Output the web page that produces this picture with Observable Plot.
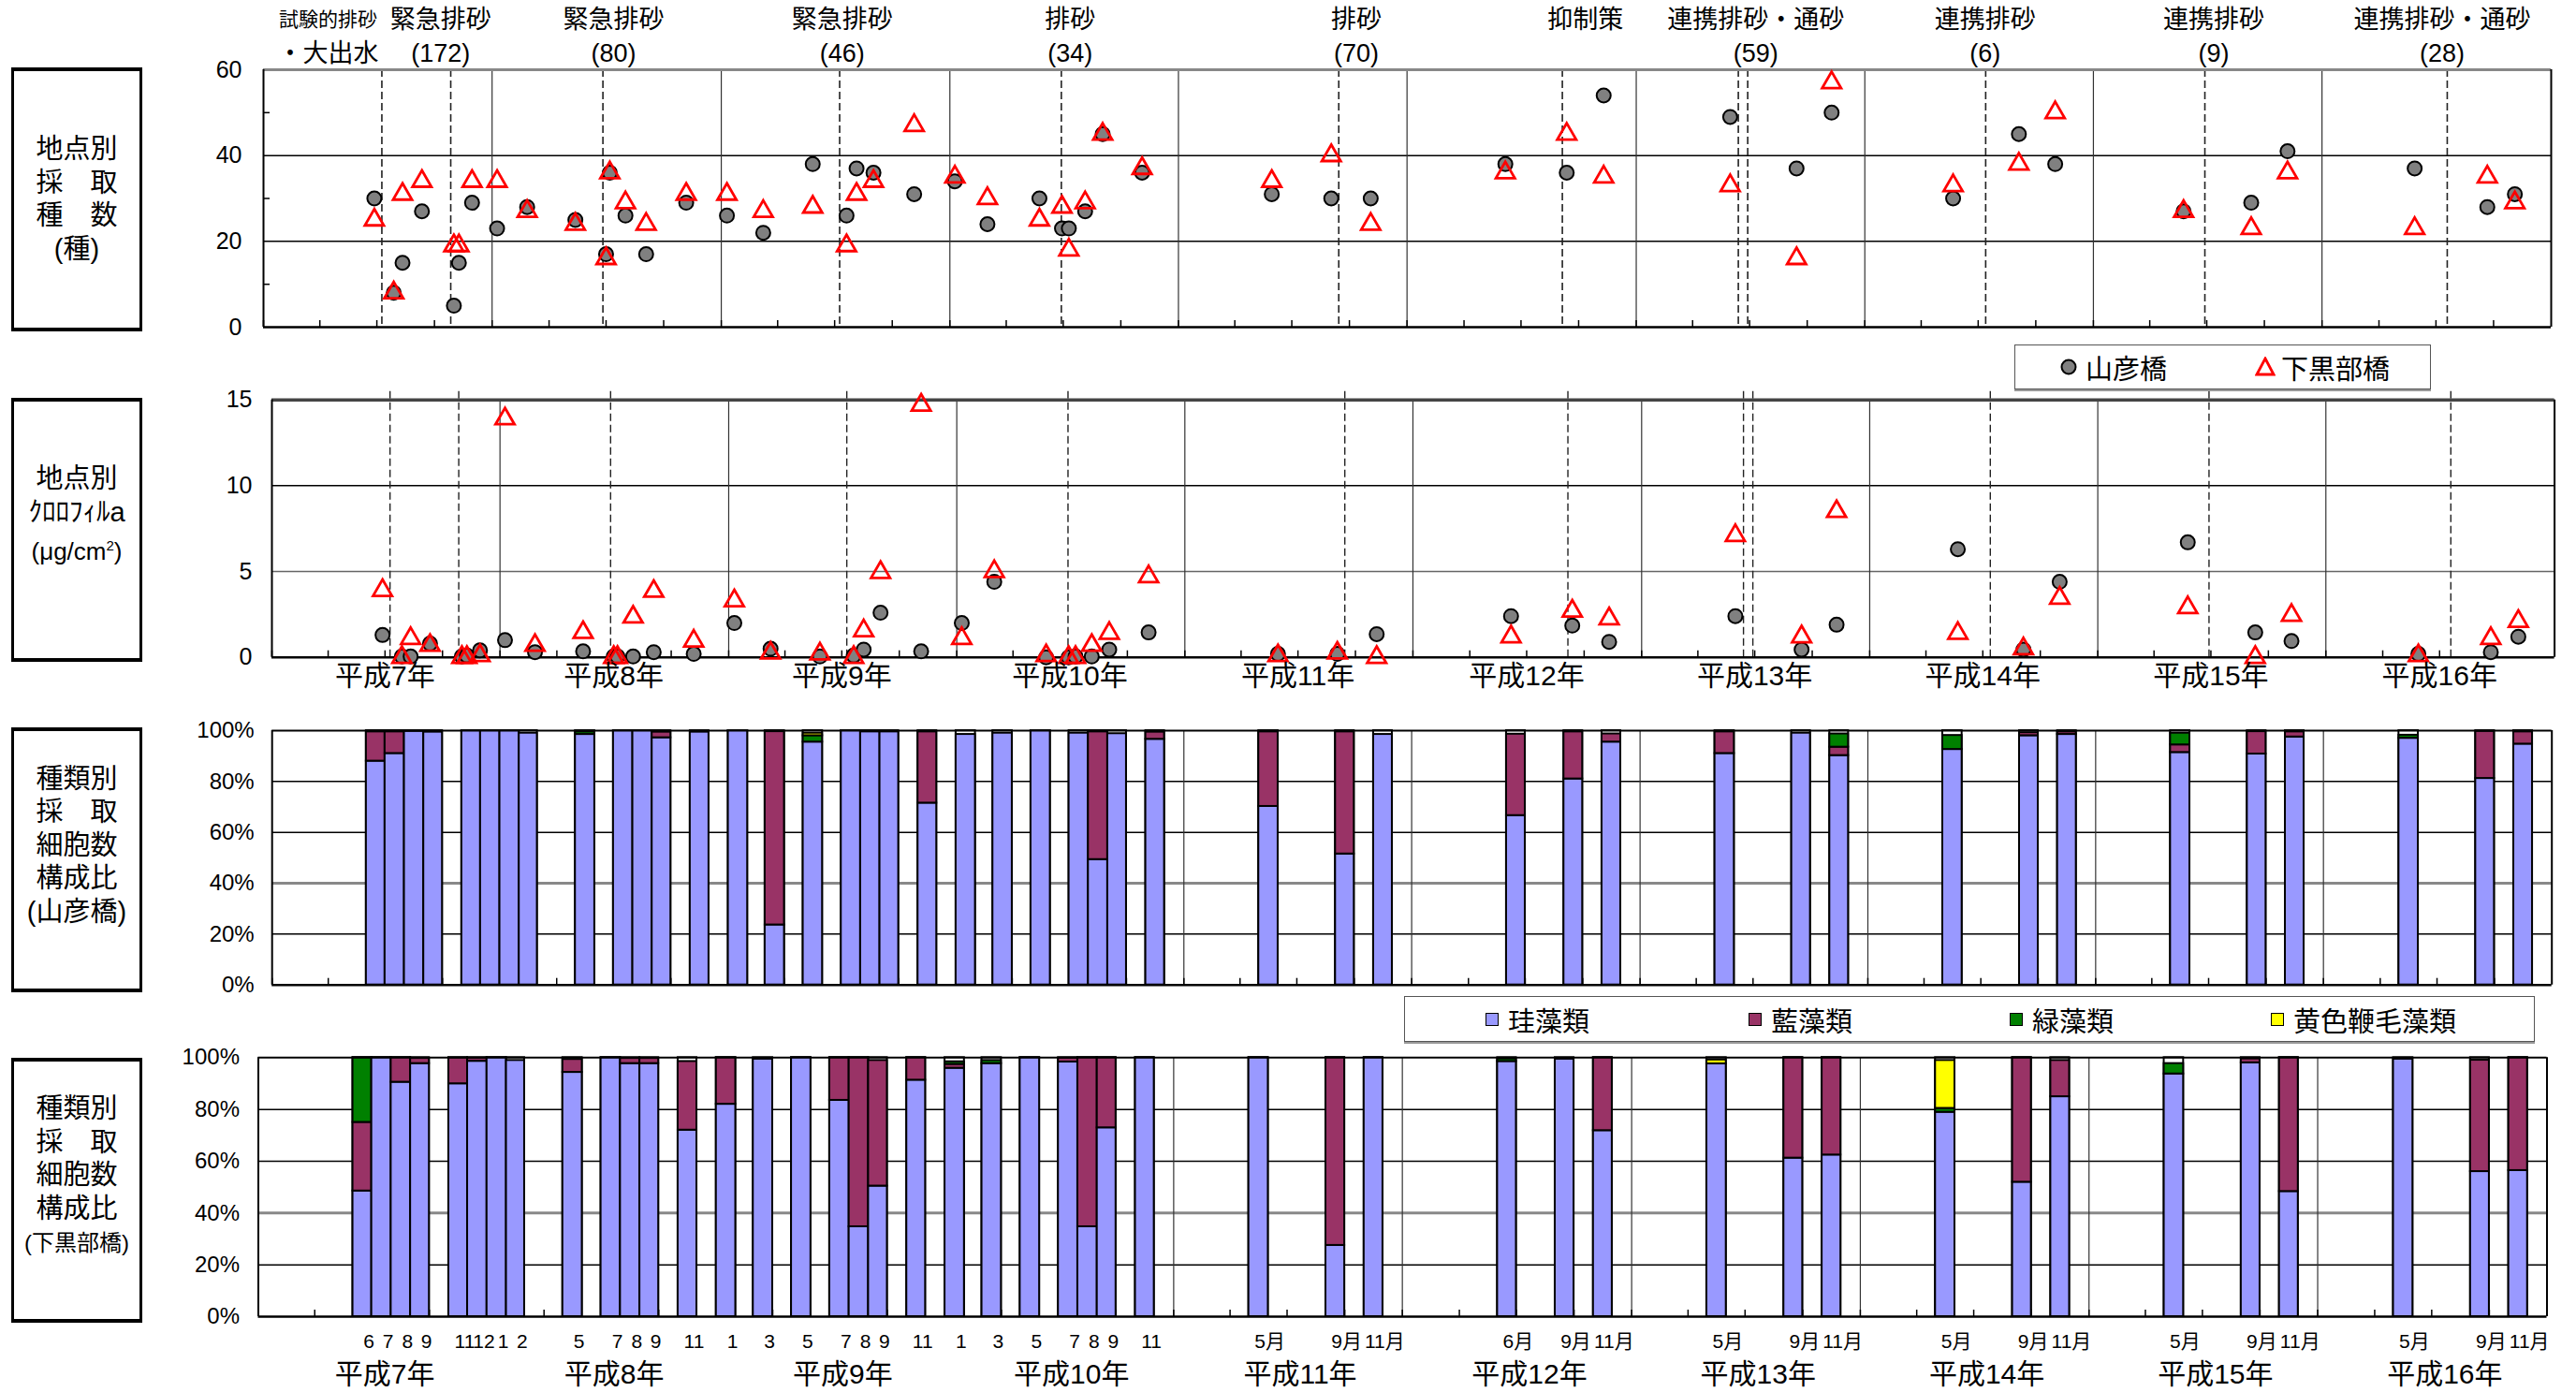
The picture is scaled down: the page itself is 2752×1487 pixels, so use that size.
<!DOCTYPE html>
<html lang="ja">
<head>
<meta charset="utf-8">
<title>地点別採取種数・クロロフィルa・種類別細胞数構成比</title>
<script src="https://cdn.jsdelivr.net/npm/d3@7"></script>
<script src="https://cdn.jsdelivr.net/npm/@observablehq/plot@0.6"></script>
<style>
html,body{margin:0;padding:0;background:#fff;}
#root{position:relative;width:2752px;height:1487px;overflow:hidden;font-family:"Liberation Sans",Arial,"Noto Sans CJK JP",sans-serif;color:#000;}
.panel{position:absolute;left:0;}
.box{position:absolute;left:12px;width:140px;box-sizing:border-box;border-style:solid;border-color:#000;border-width:4px 3px;display:flex;flex-direction:column;justify-content:center;align-items:center;font-size:29px;line-height:35.5px;font-family:"Liberation Sans","Noto Sans CJK JP",sans-serif;}
.legend{position:absolute;box-sizing:border-box;border:1.5px solid #555;box-shadow:0 2px 0 #999;background:#fff;font-family:"Noto Sans CJK JP",sans-serif;font-size:29px;}
.item{position:absolute;top:0;height:100%;display:flex;align-items:center;white-space:nowrap;}
.sw{position:absolute;width:14px;height:14px;box-sizing:border-box;border:1.5px solid #000;}
</style>
</head>
<body>
<div id="root"></div>
<script>
// ---------------- DATA ----------------
const sampleDates = ["1995-06-27","1995-07-28","1995-08-11","1995-09-11","1995-11-01","1995-11-09","1995-11-30","1996-01-09","1996-02-26","1996-05-13","1996-07-01","1996-07-07","1996-08-01","1996-09-03","1996-11-06","1997-01-10","1997-03-09","1997-05-27","1997-07-20","1997-08-05","1997-09-01","1997-11-05","1998-01-09","1998-03-02","1998-05-24","1998-06-29","1998-07-10","1998-08-05","1998-09-02","1998-11-04","1999-05-30","1999-09-02","1999-11-04","2000-06-06","2000-09-12","2000-11-10","2001-05-31","2001-09-14","2001-11-09","2002-05-22","2002-09-04","2002-11-01","2003-05-25","2003-09-10","2003-11-07","2004-05-28","2004-09-21","2004-11-04"];
const speciesYamahiko   = [30,8,15,27,5,15,29,23,28,25,17,36,26,17,29,26,22,38,26,37,36,31,34,24,30,23,23,27,45,36,31,30,30,38,36,54,49,37,50,30,45,38,27,29,41,37,28,31];
const speciesShimokurobe = [25,8,31,34,19,19,34,34,27,24,16,36,29,24,31,31,27,28,19,31,34,47,35,30,25,28,18,29,45,37,34,40,24,36,45,35,33,16,57,33,38,50,27,23,36,23,35,29];
const chlYamahiko   = [1.3,0.05,0.05,0.8,0.05,0.1,0.4,1.0,0.3,0.35,0.05,0.05,0.05,0.3,0.2,2.0,0.5,0.05,0.1,0.45,2.6,0.35,2.0,4.4,0.0,0.0,0.05,0.05,0.45,1.45,0.2,0.2,1.35,2.4,1.85,0.9,2.4,0.45,1.9,6.3,0.45,4.4,6.7,1.45,0.95,0.2,0.3,1.2];
const chlShimokurobe = [3.9,0.0,1.1,0.7,0.0,0.0,0.1,13.9,0.7,1.45,0.0,0.0,2.35,3.85,0.95,3.3,0.25,0.2,0.0,1.55,4.95,14.7,1.1,5.0,0.1,0.0,0.0,0.7,1.4,4.7,0.1,0.25,0.0,1.2,2.7,2.25,7.1,1.2,8.5,1.4,0.5,3.45,2.9,0.0,2.45,0.1,1.1,2.1];

const flushDates = ["1995-07-09","1995-10-27","1996-06-26","1997-07-09","1998-06-28","1999-09-14","2000-09-05","2001-06-13","2001-06-28","2002-07-13","2003-06-28","2004-07-19"];
const flushLabelDates = ["1995-04-14","1995-10-11","1996-07-13","1997-07-13","1998-07-12","1999-10-12","2000-10-12","2001-07-11","2002-07-12","2003-07-12","2004-07-11"];
const flushLabelLine1 = ["試験的排砂","緊急排砂","緊急排砂","緊急排砂","排砂","排砂","抑制策","連携排砂・通砂","連携排砂","連携排砂","連携排砂・通砂"];
const flushLabelLine2 = ["・大出水","(172)","(80)","(46)","(34)","(70)","","(59)","(6)","(9)","(28)"];

const yearLabels = ["平成7年","平成8年","平成9年","平成10年","平成11年","平成12年","平成13年","平成14年","平成15年","平成16年"];

const cellMonths = ["1995-06","1995-07","1995-08","1995-09","1995-11","1995-12","1996-01","1996-02","1996-05","1996-07","1996-08","1996-09","1996-11","1997-01","1997-03","1997-05","1997-07","1997-08","1997-09","1997-11","1998-01","1998-03","1998-05","1998-07","1998-08","1998-09","1998-11","1999-05","1999-09","1999-11","2000-06","2000-09","2000-11","2001-05","2001-09","2001-11","2002-05","2002-09","2002-11","2003-05","2003-09","2003-11","2004-05","2004-09","2004-11"];
const monthLabels = ["6","7","8","9","11","12","1","2","5","7","8","9","11","1","3","5","7","8","9","11","1","3","5","7","8","9","11","5月","9月","11月","6月","9月","11月","5月","9月","11月","5月","9月","11月","5月","9月","11月","5月","9月","11月"];

const algaeTypes  = ["珪藻類","藍藻類","緑藻類","黄色鞭毛藻類"];
const algaeColors = ["#9999ff","#993366","#008000","#ffff00"];

const yamaDiatom    = [88,91,99.7,99.4,100,100,100,99,98.5,100,100,97.2,99.4,100,23.6,95.5,100,99.5,99.5,71.5,98.5,99,100,99,49.3,98.8,96.6,70.2,51.5,98.5,66.6,81,95.5,91,99,90.2,92.6,98,98.5,91.4,90.8,97.5,97,81.2,94.7];
const yamaBlueGreen = [11.5,8.5,0,0,0,0,0,0,0,0,0,2.2,0,0,76,0,0,0,0,28,0,0,0,0,50.2,0,2.8,29.3,48,0,32,18.5,3.2,8.5,0,3.3,0,1.2,1,3,8.8,2,0,18.5,4.8];
const yamaGreen     = [0,0,0,0,0,0,0,0,1,0,0,0,0,0,0,2.5,0,0,0,0,0,0,0,0,0,0,0,0,0,0,0,0,0,0,0,5.2,5.5,0,0,4.6,0,0,1.2,0,0];
const yamaYellow    = [0,0,0,0,0,0,0,0,0,0,0,0,0,0,0,1,0,0,0,0,0,0,0,0,0,0,0,0,0,0,0,0,0,0,0,0,0,0,0,0,0,0,0,0,0];

const shimoDiatom    = [48.5,100,90.5,97.7,89.9,98.6,100,98.9,94.3,100,97.7,97.7,72,82,99.4,100,83.5,34.7,50.4,91.3,95.9,97.7,100,98.3,34.7,72.9,100,100,27.5,100,98.5,99.4,71.8,97.6,61.2,62.4,78.9,51.9,84.9,93.7,98,48.3,99.4,56,56.4];
const shimoBlueGreen = [26.5,0,9.5,2,10,1.2,0,0,5,0,2,2,26.5,18,0,0,16.5,65.3,48.5,8.7,1.5,0,0,1.5,65.3,27.1,0,0,72.5,0,0,0,28.2,0,38.8,37.6,0,48.1,14,0,1.5,51.7,0,43,43.6];
const shimoGreen     = [25,0,0,0,0,0,0,0,0,0,0,0,0,0,0,0,0,0,0,0,1,1.2,0,0,0,0,0,0,0,0,1,0,0,0,0,0,1.5,0,0,4,0,0,0,0,0];
const shimoYellow    = [0,0,0,0,0,0,0,0,0,0,0,0,0,0,0,0,0,0,0,0,0,0,0,0,0,0,0,0,0,0,0,0,0,1.5,0,0,18.5,0,0,0,0,0,0,0,0];

// ---------------- BUILD ----------------
const FONT = '"Liberation Sans", Arial, "Noto Sans CJK JP", sans-serif';
const T0 = new Date(Date.UTC(1995,0,1)), T1 = new Date(Date.UTC(2005,0,1));
const yearStarts = d3.utcYear.range(new Date(Date.UTC(1996,0,1)), T1);
const quarterTicks = d3.utcMonth.every(3).range(T0, T1);
const yearMid = yearLabels.map((t,i)=>({t, date:new Date(Date.UTC(1995+i,6,1))}));
const flushes = flushDates.map(d=>new Date(d));
const annot = flushLabelDates.map((d,i)=>({date:new Date(d), l1:flushLabelLine1[i], l2:flushLabelLine2[i]}));
const samples = sampleDates.map((d,i)=>({date:new Date(d), sy:speciesYamahiko[i], ss:speciesShimokurobe[i], cy:chlYamahiko[i], cs:chlShimokurobe[i]}));

const cells = cellMonths.map((ym,i)=>{
  const [yy,mm] = ym.split("-").map(Number);
  const x1 = new Date(Date.UTC(yy,mm-1,1)), x2 = new Date(Date.UTC(yy,mm,1));
  return {x1, x2, mid:new Date((+x1 + +x2)/2), label:monthLabels[i]};
});
function stackSegs(series){
  const out=[];
  cells.forEach((c,i)=>{
    let base=0;
    series.forEach((arr,k)=>{
      const v=arr[i];
      if(v>0){ out.push({x1:c.x1, x2:c.x2, y1:base, y2:base+v, k:algaeTypes[k]}); base+=v; }
    });
  });
  return out;
}
const yamaSegs  = stackSegs([yamaDiatom,yamaBlueGreen,yamaGreen,yamaYellow]);
const shimoSegs = stackSegs([shimoDiatom,shimoBlueGreen,shimoGreen,shimoYellow]);

const root = document.getElementById("root");
function place(svg, top){ const d=document.createElement("div"); d.className="panel"; d.style.top=top+"px"; d.appendChild(svg); root.appendChild(d); }
const xScale = {type:"utc", domain:[T0,T1], axis:null};
const baseStyle = {fontSize:"25px", fontFamily:FONT, color:"#000", background:"transparent", overflow:"visible"};

function frameMarks(){
  return [
    Plot.ruleX(yearStarts, {stroke:"#333", strokeWidth:1.2}),
    Plot.ruleX(quarterTicks, {y1:0, y2:0, insetBottom:7, stroke:"#000", strokeWidth:1.5}),
  ];
}
function borderMarks(yMax, topColor, topWidth){
  return [
    Plot.ruleY([yMax], {stroke:topColor, strokeWidth:topWidth}),
    Plot.ruleY([0], {stroke:"#000", strokeWidth:2.5}),
    Plot.ruleX([T0], {stroke:"#000", strokeWidth:2}),
    Plot.ruleX([T1], {stroke:"#000", strokeWidth:2}),
  ];
}

// Panel 1: species count
place(Plot.plot({
  width:2752, height:380, marginTop:74, marginBottom:31, marginLeft:281, marginRight:27,
  x:xScale,
  y:{domain:[0,60], ticks:[0,20,40,60], tickSize:0, tickPadding:23, label:null},
  style:baseStyle,
  marks:[
    Plot.ruleY([20,40], {stroke:"#000", strokeWidth:1.5}),
    ...frameMarks(),
    Plot.ruleY([10,30,50], {x1:T0, x2:T0, insetRight:-7, stroke:"#000", strokeWidth:1.5}),
    Plot.ruleX(flushes, {stroke:"#222", strokeWidth:1.6, strokeDasharray:"8,4"}),
    ...borderMarks(60, "#888", 3),
    Plot.dot(samples, {x:"date", y:"sy", r:7.5, fill:"#808080", stroke:"#000", strokeWidth:2}),
    Plot.dot(samples, {x:"date", y:"ss", r:7.5, symbol:"triangle", fill:"none", stroke:"#ff0000", strokeWidth:2.8}),
    Plot.text(annot.filter(d=>d.l1==="試験的排砂"), {x:"date", text:"l1", frameAnchor:"top", dy:-53, lineAnchor:"middle", fontSize:21, fontFamily:FONT}),
    Plot.text(annot.filter(d=>d.l1!=="試験的排砂"), {x:"date", text:"l1", frameAnchor:"top", dy:-53, lineAnchor:"middle", fontSize:27, fontFamily:FONT}),
    Plot.text(annot, {x:"date", text:"l2", frameAnchor:"top", dy:-17, lineAnchor:"middle", fontSize:27, fontFamily:FONT}),
  ]
}), 0);

// Panel 2: chlorophyll a
place(Plot.plot({
  width:2752, height:370, marginTop:46.7, marginBottom:48.3, marginLeft:290, marginRight:23.4,
  x:xScale,
  y:{domain:[0,15], ticks:[0,5,10,15], tickSize:0, tickPadding:21, label:null},
  style:baseStyle,
  marks:[
    Plot.ruleY([5], {stroke:"#666", strokeWidth:1.5}),
    Plot.ruleY([10], {stroke:"#000", strokeWidth:1.5}),
    ...frameMarks(),
    Plot.ruleX(flushes, {y1:15, y2:0, insetTop:-9, stroke:"#222", strokeWidth:1.4, strokeDasharray:"8,4"}),
    ...borderMarks(15, "#444", 3.5),
    Plot.dot(samples, {x:"date", y:"cy", r:7.5, fill:"#808080", stroke:"#000", strokeWidth:2}),
    Plot.dot(samples, {x:"date", y:"cs", r:7.5, symbol:"triangle", fill:"none", stroke:"#ff0000", strokeWidth:2.8}),
    Plot.text(yearMid, {x:"date", text:"t", frameAnchor:"bottom", dy:20, lineAnchor:"middle", fontSize:30, fontFamily:FONT}),
  ]
}), 380);

// Panels 3 & 4: composition bars
function barPanel(segs, opts, withLabels){
  const marks = [
    Plot.ruleY([20,60,80], {stroke:"#000", strokeWidth:1.5}),
    Plot.ruleY([40], {stroke:"#888", strokeWidth:3}),
    ...frameMarks(),
    Plot.rect(cells, {x1:"x1", x2:"x2", y1:0, y2:100, fill:"#fff", stroke:"#000", strokeWidth:2}),
    Plot.rect(segs, {x1:"x1", x2:"x2", y1:"y1", y2:"y2", fill:"k", stroke:"#000", strokeWidth:2}),
    ...borderMarks(100, "#000", 2),
  ];
  if (withLabels) {
    const isNum = (d)=>!d.label.includes("月");
    marks.push(Plot.text(cells.filter(isNum), {x:"mid", text:"label", frameAnchor:"bottom", dy:27, dx:7, lineAnchor:"middle", fontSize:21, fontFamily:FONT}));
    marks.push(Plot.text(cells.filter(d=>!isNum(d)), {x:"mid", text:"label", frameAnchor:"bottom", dy:27, dx:12, lineAnchor:"middle", fontSize:21, fontFamily:FONT}));
    marks.push(Plot.text(yearMid, {x:"date", text:"t", frameAnchor:"bottom", dy:62, dx:14, lineAnchor:"middle", fontSize:30, fontFamily:FONT}));
  }
  return Plot.plot({
    width:2752, height:opts.height, marginTop:opts.marginTop, marginBottom:opts.marginBottom, marginLeft:opts.marginLeft, marginRight:opts.marginRight,
    x:xScale,
    y:{domain:[0,100], ticks:[0,20,40,60,80,100], tickFormat:(d)=>d+"%", tickSize:0, tickPadding:opts.pad, label:null},
    color:{domain:algaeTypes, range:algaeColors},
    style:{...baseStyle, fontSize:"24px"},
    marks
  });
}
place(barPanel(yamaSegs, {height:340, marginTop:30, marginBottom:38.3, marginLeft:290.2, marginRight:26.3, pad:19}, false), 750);
place(barPanel(shimoSegs, {height:397, marginTop:39.3, marginBottom:81, marginLeft:275.5, marginRight:31.5, pad:20}, true), 1090);

// Left label boxes
const boxes = [
  {top:72, h:282, lines:["地点別","採　取","種　数","(種)"], pb:0},
  {top:425, h:282, lines:["地点別","ｸﾛﾛﾌｨﾙa","<span style='font-size:26px'>(μg/cm<sup style='font-size:15px'>2</sup>)</span>"], pb:30},
  {top:777, h:283, lines:["種類別","採　取","細胞数","構成比","(山彦橋)"], pb:30},
  {top:1130, h:283, lines:["種類別","採　取","細胞数","構成比","<span style='font-size:24px'>(下黒部橋)</span>"], pb:30},
];
boxes.forEach(b=>{
  const d=document.createElement("div"); d.className="box";
  d.style.top=b.top+"px"; d.style.height=b.h+"px"; d.style.paddingBottom=b.pb+"px";
  d.innerHTML=b.lines.map(l=>"<div>"+l+"</div>").join("");
  root.appendChild(d);
});

// Legend 1 (sites)
const lg1=document.createElement("div"); lg1.className="legend";
Object.assign(lg1.style,{left:"2152px",top:"368px",width:"445px",height:"48px"});
lg1.innerHTML =
 "<div class='item' style='left:47px'><svg width='20' height='20'><circle cx='10' cy='10' r='7.5' fill='#808080' stroke='#000' stroke-width='2'/></svg><span style='margin-left:8px'>山彦橋</span></div>"+
 "<div class='item' style='left:256px'><svg width='22' height='22'><path d='M11,2 L20,19 L2,19 Z' fill='none' stroke='#ff0000' stroke-width='2.8'/></svg><span style='margin-left:6px'>下黒部橋</span></div>";
root.appendChild(lg1);

// Legend 2 (algae)
const lg2=document.createElement("div"); lg2.className="legend";
Object.assign(lg2.style,{left:"1500px",top:"1064px",width:"1208px",height:"49px"});
const lg2x=[86,367,646,925];
lg2.innerHTML = algaeTypes.map((t,i)=>
  "<div class='item' style='left:"+lg2x[i]+"px'><span class='sw' style='position:relative;display:inline-block;background:"+algaeColors[i]+"'></span><span style='margin-left:10px'>"+t+"</span></div>"
).join("");
root.appendChild(lg2);
</script>
</body>
</html>
